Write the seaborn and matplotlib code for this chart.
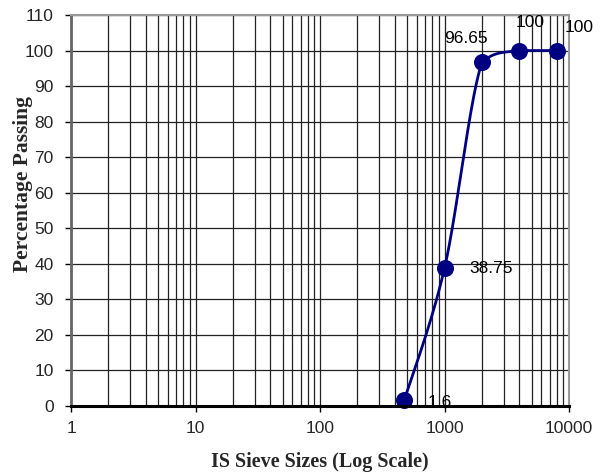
import numpy as np
import pandas as pd
import matplotlib
matplotlib.use("Agg")
import matplotlib.pyplot as plt
import seaborn as sns
from matplotlib.ticker import LogLocator, FixedLocator, NullFormatter, FuncFormatter

sieve_sizes = [475, 1000, 2000, 4000, 8000]
percent_passing = [1.6, 38.75, 96.65, 100, 100]
point_labels = ["1.6", "38.75", "96.65", "100", "100"]
y_ticks = [0, 10, 20, 30, 40, 50, 60, 70, 80, 90, 100, 110]
x_ticks = [1, 10, 100, 1000, 10000]

sns.set_theme(style="white")
plt.rcParams['font.family'] = ['Liberation Sans', 'DejaVu Sans']

fig = plt.figure(figsize=(6.06, 4.76), dpi=100)
ax = fig.add_axes([71/606, 1-406/476, 498/606, 391/476])

# Smoothed line (Bezier, 1/6 tension, control heights limited to segment range)
W, H = 498.0, 391.0
u = np.log10(np.array(sieve_sizes, float)) / 4.0 * W
v = np.array(percent_passing, float) / 110.0 * H
P = np.column_stack([u, v])
n = len(P)
curve = []
t = np.linspace(0, 1, 50)
for i in range(n - 1):
    p0 = P[i - 1] if i > 0 else P[i]
    p1 = P[i]
    p2 = P[i + 1]
    p3 = P[i + 2] if i + 2 < n else P[i + 1]
    c1 = p1 + (p2 - p0) / 6.0
    c2 = p2 - (p3 - p1) / 6.0
    lo, hi = min(p1[1], p2[1]), max(p1[1], p2[1])
    c1[1] = np.clip(c1[1], lo, hi)
    c2[1] = np.clip(c2[1], lo, hi)
    seg = ((1 - t)[:, None] ** 3 * p1 + 3 * ((1 - t) ** 2 * t)[:, None] * c1
           + 3 * ((1 - t) * t ** 2)[:, None] * c2 + (t ** 3)[:, None] * p2)
    curve.append(seg if i == 0 else seg[1:])
curve = np.vstack(curve)
smooth = pd.DataFrame({"x": 10 ** (curve[:, 0] / W * 4.0), "y": curve[:, 1] / H * 110.0})
pts = pd.DataFrame({"x": sieve_sizes, "y": percent_passing})

sns.lineplot(data=smooth, x="x", y="y", ax=ax, color="#000080", lw=2, sort=False,
             estimator=None, zorder=4)
sns.scatterplot(data=pts, x="x", y="y", ax=ax, color="#000080", s=150,
                edgecolor="#000080", linewidth=0, zorder=5, clip_on=False)

ax.set_xscale("log")
ax.set_xlim(1, 10000)
ax.set_ylim(0, 110)

ax.xaxis.set_major_locator(FixedLocator(x_ticks))
ax.xaxis.set_major_formatter(FuncFormatter(lambda val, pos: f"{int(round(val))}"))
ax.xaxis.set_minor_locator(LogLocator(base=10, subs=np.arange(2, 10), numticks=20))
ax.xaxis.set_minor_formatter(NullFormatter())
ax.set_yticks(y_ticks)

ax.grid(True, which="major", axis="both", color="#222222", lw=0.9)
ax.grid(True, which="minor", axis="x", color="#222222", lw=0.9)
ax.set_axisbelow(True)

ax.tick_params(axis="both", which="major", direction="out", length=4.5, width=1,
               color="black", labelsize=12.5, bottom=True, left=True)
ax.tick_params(axis="y", which="major", pad=8)
ax.tick_params(axis="x", which="major", pad=6)
ax.tick_params(axis="x", which="minor", length=0)

for side in ["top", "right"]:
    ax.spines[side].set_color("#999999")
    ax.spines[side].set_linewidth(1.5)
ax.spines["left"].set_color("#666666")
ax.spines["left"].set_linewidth(2)
ax.spines["bottom"].set_color("black")
ax.spines["bottom"].set_linewidth(2.2)
ax.spines["bottom"].set_zorder(7)

ax.set_xlabel("IS Sieve Sizes (Log Scale)", family=["Liberation Serif", "DejaVu Serif"],
              fontweight="bold", fontsize=14.5, va="center")
ax.xaxis.set_label_coords(0.5, (406 - 462) / 391)
ax.set_ylabel("Percentage Passing", family=["Liberation Serif", "DejaVu Serif"],
              fontweight="bold", fontsize=15.5, va="center")
ax.yaxis.set_label_coords((23 - 71) / 498, (406 - 184) / 391)

offsets = [(17, -1.5, "left", "center"), (18, -0.5, "left", "center"),
           (4.5, 12, "right", "bottom"), (8, 15, "center", "bottom"),
           (5.8, 11, "left", "bottom")]
for xv, yv, lab, (dx, dy, ha, va) in zip(sieve_sizes, percent_passing, point_labels, offsets):
    ax.annotate(lab, (xv, yv), xytext=(dx, dy), textcoords="offset points",
                ha=ha, va=va, fontsize=12.5, color="black", zorder=6,
                annotation_clip=False)

fig.savefig("out.png", dpi=100)
